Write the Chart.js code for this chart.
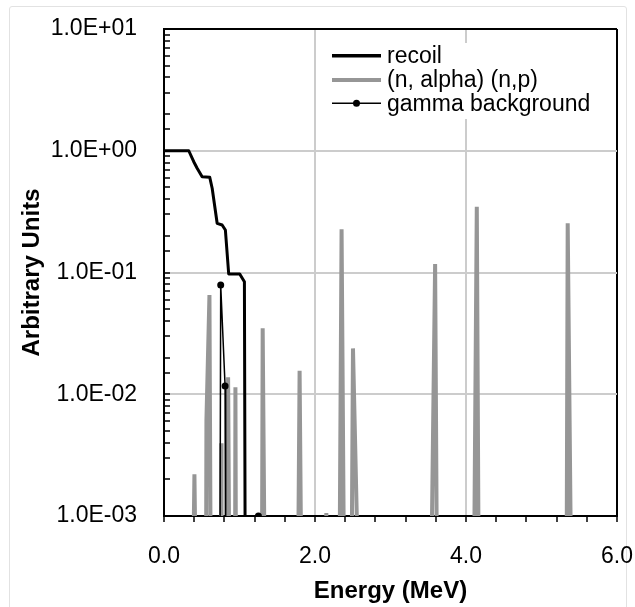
<!DOCTYPE html>
<html>
<head>
<meta charset="utf-8">
<script src="https://cdn.jsdelivr.net/npm/chart.js@4.4.0/dist/chart.umd.min.js"></script>
<style>
html,body{margin:0;padding:0;background:#fff;}
#wrap{position:relative;width:635px;height:607px;overflow:hidden;}
#frame{position:absolute;left:9px;top:6px;width:616px;height:620px;border:1px solid #e2e2e2;border-radius:3px;}
canvas{position:absolute;left:0;top:0;}
</style>
</head>
<body>
<div id="wrap"><div id="frame"></div><canvas id="c" width="635" height="607"></canvas></div>
<script>
// ---- data (Energy in MeV, arbitrary units) ----
// 1e-4 marks points that sit below the visible axis (zero signal)
const seriesNames = ['recoil', '(n, alpha) (n,p)', 'gamma background'];

const recoilE   = [0, 0.328, 0.394, 0.439, 0.505, 0.606, 0.638, 0.704, 0.770, 0.813, 0.857, 1.003, 1.065, 1.078];
const recoilVal = [1.0, 1.0, 0.813, 0.718, 0.612, 0.605, 0.492, 0.2535, 0.2455, 0.2234, 0.0972, 0.0972, 0.084, 1e-4];

const alphaE   = [0.375, 0.403, 0.43,
                  0.555, 0.562, 0.602, 0.622,
                  0.752, 0.757, 0.762,
                  0.84, 0.849, 0.87,
                  0.94, 0.946, 0.955,
                  1.295, 1.307, 1.34,
                  1.77, 1.796, 1.825,
                  2.14, 2.15, 2.16,
                  2.32, 2.352, 2.39,
                  2.48, 2.503, 2.59,
                  3.53, 3.591, 3.62,
                  4.10, 4.143, 4.172,
                  5.33, 5.347, 5.40];
const alphaVal = [1e-4, 0.0022, 1e-4,
                  1e-4, 0.0061, 0.0653, 1e-4,
                  1e-4, 0.00395, 1e-4,
                  1e-4, 0.0138, 1e-4,
                  1e-4, 0.0114, 1e-4,
                  1e-4, 0.0348, 1e-4,
                  1e-4, 0.0156, 1e-4,
                  1e-4, 0.00106, 1e-4,
                  1e-4, 0.2264, 1e-4,
                  1e-4, 0.0238, 1e-4,
                  1e-4, 0.1175, 1e-4,
                  1e-4, 0.347, 1e-4,
                  1e-4, 0.2535, 1e-4];

const gammaE   = [0.739, 0.751, 0.809, 0.817, 1.25];
const gammaVal = [1e-4, 0.0789, 0.0117, 1e-4, 0.001];

const xTickValues = [0, 2, 4, 6];
const xTickLabels = ['0.0', '2.0', '4.0', '6.0'];
const yTickValues = [0.001, 0.01, 0.1, 1, 10];
const yTickLabels = ['1.0E-03', '1.0E-02', '1.0E-01', '1.0E+00', '1.0E+01'];

// ---- helpers ----
const toPts = (xs, ys) => xs.map((x, i) => ({x: x, y: ys[i]}));
const idxOf = (vals, v) => vals.findIndex(t => Math.abs(t - v) <= Math.abs(t) * 1e-6 + 1e-9);
const noPad = (s) => { s.paddingLeft = 0; s.paddingRight = 0; s.paddingTop = 0; s.paddingBottom = 0; };

const FONT = "'Liberation Sans', Arial, Helvetica, sans-serif";
Chart.defaults.font.family = FONT;
Chart.defaults.color = '#000';

const GRID = '#cccccc';
const CLEAR = 'rgba(0,0,0,0)';

const insideLegend = {
  id: 'insideLegend',
  afterDraw(chart) {
    const ctx = chart.ctx;
    const ca = chart.chartArea;
    const bx = ca.left + 154, by = ca.top + 14, bw = 294, bh = 76;
    ctx.save();
    ctx.fillStyle = '#ffffff';
    ctx.fillRect(bx, by, bw, bh);
    const x0 = ca.left + 168, x1 = ca.left + 217, tx = ca.left + 223;
    const rows = [ca.top + 26.7, ca.top + 51, ca.top + 74.3];
    ctx.font = '23px ' + FONT;
    ctx.textBaseline = 'middle';
    ctx.textAlign = 'left';
    chart.data.datasets.forEach((ds, i) => {
      const y = rows[i];
      ctx.strokeStyle = ds.borderColor;
      ctx.lineWidth = ds.legendLineWidth || ds.borderWidth;
      ctx.beginPath();
      ctx.moveTo(x0, y);
      ctx.lineTo(x1, y);
      ctx.stroke();
      if (ds.pointRadius > 0) {
        ctx.fillStyle = ds.pointBackgroundColor;
        ctx.beginPath();
        ctx.arc((x0 + x1) / 2, y, ds.pointRadius, 0, Math.PI * 2);
        ctx.fill();
      }
      ctx.fillStyle = '#000';
      ctx.fillText(ds.label, tx, y + 1);
    });
    ctx.restore();
  }
};

new Chart(document.getElementById('c'), {
  type: 'line',
  data: {
    datasets: [
      {
        label: seriesNames[0],
        data: toPts(recoilE, recoilVal),
        borderColor: '#000000',
        borderWidth: 3,
        legendLineWidth: 3.5,
        pointRadius: 0,
        borderJoinStyle: 'round',
        order: 1
      },
      {
        label: seriesNames[1],
        data: toPts(alphaE, alphaVal),
        borderColor: '#969696',
        borderWidth: 4,
        legendLineWidth: 4,
        pointRadius: 0,
        order: 2
      },
      {
        label: seriesNames[2],
        data: toPts(gammaE, gammaVal),
        borderColor: '#000000',
        borderWidth: 1.5,
        pointRadius: 3.5,
        pointBackgroundColor: '#000000',
        pointBorderColor: '#000000',
        pointBorderWidth: 0,
        order: 0
      }
    ]
  },
  options: {
    responsive: false,
    animation: false,
    events: [],
    layout: {padding: {left: 0, top: 29, right: 18, bottom: 0}},
    plugins: {legend: {display: false}, tooltip: {enabled: false}},
    elements: {line: {tension: 0}},
    scales: {
      x: {
        type: 'linear',
        min: 0, max: 6,
        afterFit: (s) => { s.height = 91; noPad(s); },
        ticks: {
          stepSize: 0.4,
          autoSkip: false,
          maxRotation: 0,
          padding: 20.5,
          font: {size: 23},
          color: '#000',
          callback: (v) => { const i = idxOf(xTickValues, v); return i >= 0 ? xTickLabels[i] : ''; }
        },
        grid: {
          color: (c) => {
            const v = c.tick ? c.tick.value : null;
            if (v === null) return CLEAR;
            if (Math.abs(v - 6) < 1e-6) return '#000000';
            if (Math.abs(v) < 1e-6) return CLEAR;
            return idxOf(xTickValues, v) >= 0 ? GRID : CLEAR;
          },
          lineWidth: 2,
          drawTicks: true,
          tickLength: 6,
          tickWidth: 1.5,
          tickColor: '#000000'
        },
        border: {display: true, color: '#000000', width: 2},
        title: {
          display: true,
          text: 'Energy (MeV)',
          font: {size: 24, weight: 'bold'},
          color: '#000',
          padding: {top: 0, bottom: 1.7}
        }
      },
      y: {
        type: 'logarithmic',
        min: 0.001, max: 10,
        afterFit: (s) => { s.width = 164; noPad(s); },
        ticks: {
          autoSkip: false,
          padding: 33,
          font: {size: 23},
          color: '#000',
          callback: (v) => { const i = idxOf(yTickValues, v); return i >= 0 ? yTickLabels[i] : ''; }
        },
        grid: {
          color: (c) => {
            const v = c.tick ? c.tick.value : null;
            if (v === null) return CLEAR;
            if (Math.abs(v - 10) < 1e-6) return '#000000';
            if (Math.abs(v - 0.001) < 1e-9) return CLEAR;
            return idxOf(yTickValues, v) >= 0 ? GRID : CLEAR;
          },
          lineWidth: 2,
          drawTicks: true,
          tickLength: -6,
          tickWidth: 1.5,
          tickColor: '#000000'
        },
        border: {display: true, color: '#000000', width: 2},
        title: {
          display: true,
          text: 'Arbitrary Units',
          font: {size: 24, weight: 'bold'},
          color: '#000',
          padding: {top: 18, bottom: 0}
        }
      }
    }
  },
  plugins: [insideLegend]
});
</script>
</body>
</html>
